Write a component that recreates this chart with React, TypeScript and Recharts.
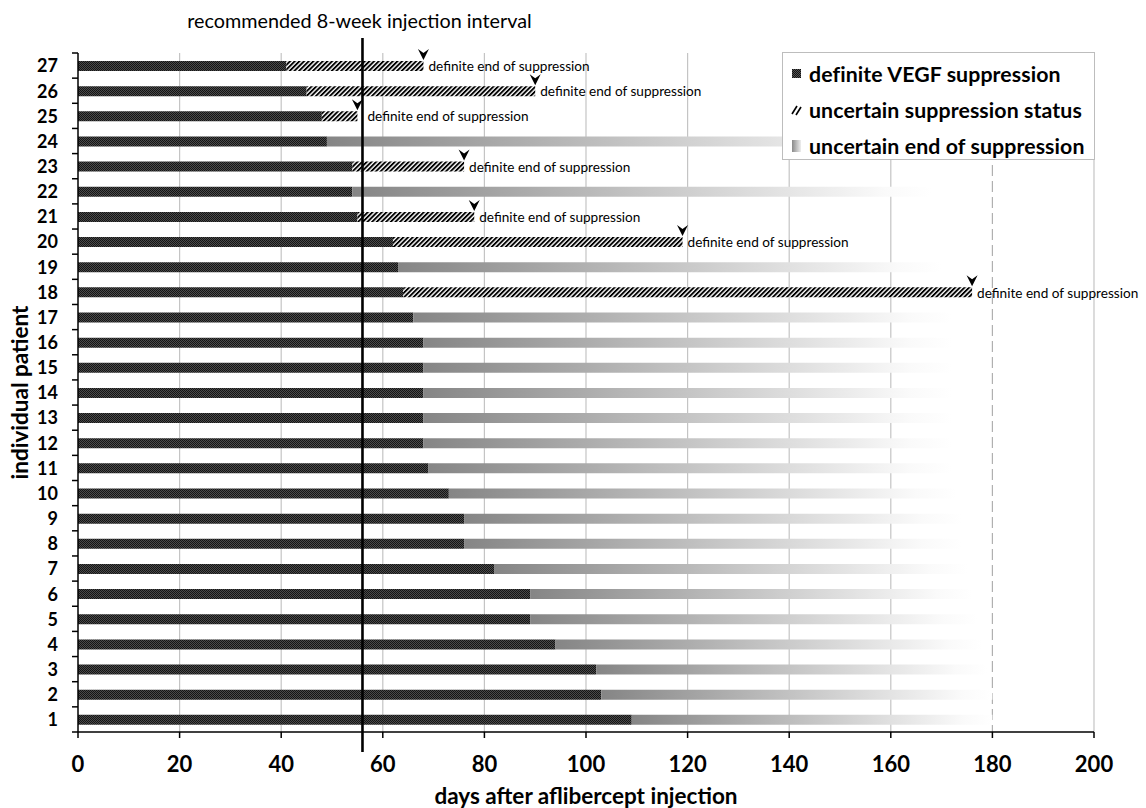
import React from 'react';
import { BarChart, Bar, XAxis, YAxis, ReferenceLine, Legend, LabelList, CartesianGrid } from 'recharts';

const patients = [27, 26, 25, 24, 23, 22, 21, 20, 19, 18, 17, 16, 15, 14, 13, 12, 11, 10, 9, 8, 7, 6, 5, 4, 3, 2, 1];
const definiteDays = [41, 45, 48, 49, 54, 54, 55, 62, 63, 64, 66, 68, 68, 68, 68, 68, 69, 73, 76, 76, 82, 89, 89, 94, 102, 103, 109];
const uncertainStatusEnd: (number | null)[] = [68, 90, 55, null, 76, null, 78, 119, null, 176, null, null, null, null, null, null, null, null, null, null, null, null, null, null, null, null, null];
const uncertainEndFade: (number | null)[] = [null, null, null, 168, null, 168, null, null, 170, null, 172, 172, 172, 172, 172, 172, 172, 173, 174, 174, 175, 176, 177, 178, 179, 180, 180];
const xTicks = [0, 20, 40, 60, 80, 100, 120, 140, 160, 180, 200];
const solidGridDays = [20, 40, 60, 80, 100, 120, 140, 160, 200];
const dashedGridDays = [180];
const RECOMMENDED_DAY = 56;

const data = patients.map((p, i) => ({
  patient: String(p),
  definite: definiteDays[i],
  hatch: uncertainStatusEnd[i] != null ? (uncertainStatusEnd[i] as number) - definiteDays[i] : null,
  fade: uncertainEndFade[i] != null ? (uncertainEndFade[i] as number) - definiteDays[i] : null,
}));

const FONT = 'Lato, "Open Sans", sans-serif';
const W = 1146;
const H = 808;
const M_TOP = 53;
const X_AXIS_H = 76;
const STEP = (H - M_TOP - X_AXIS_H) / patients.length;

const PatientTick = (props: any) => {
  const { x, y, payload, index } = props;
  return (
    <g>
      <text x={x} y={y} dy="0.38em" textAnchor="end" fontFamily={FONT} fontWeight={700} fontSize={18} fill="#000">
        {payload.value}
      </text>
      <line x1={x + 14} x2={x + 20} y1={y - STEP / 2} y2={y - STEP / 2} stroke="#000" strokeWidth={1.5} />
      {index === patients.length - 1 ? (
        <line x1={x + 14} x2={x + 20} y1={y + STEP / 2} y2={y + STEP / 2} stroke="#000" strokeWidth={1.5} />
      ) : null}
    </g>
  );
};

const renderEndLabel = (props: any) => {
  const { x, y, width, height, value, index } = props;
  if (value == null || Number(value) <= 0) return null;
  const xs = Number(x);
  const ys = Number(y);
  const w = Number(width);
  const h = Number(height);
  const endX = xs + w;
  const perDay = w / Number(value);
  const lineX = xs + (RECOMMENDED_DAY - definiteDays[index]) * perDay;
  const textX = Math.max(endX + 5, lineX + 5);
  const tipY = ys - 1;
  return (
    <g key={`end-${index}`}>
      <path
        d={`M${endX - 5.5},${tipY - 11} L${endX},${tipY - 7} L${endX + 5.5},${tipY - 11} L${endX},${tipY} Z`}
        fill="#000"
      />
      <text x={textX} y={ys + h / 2} dy="0.38em" fontFamily={FONT} fontSize={13.6} fill="#000">
        definite end of suppression
      </text>
    </g>
  );
};

const RecommendedLine = (props: any) => {
  const { x1, y1, y2 } = props;
  const top = Math.min(Number(y1), Number(y2));
  const bottom = Math.max(Number(y1), Number(y2));
  return (
    <g>
      <line x1={x1} x2={x1} y1={top - 15} y2={bottom + 20} stroke="#000" strokeWidth={2.6} />
      <text x={x1 - 3} y={top - 25} textAnchor="middle" fontFamily={FONT} fontSize={19.8} fill="#000">
        recommended 8-week injection interval
      </text>
    </g>
  );
};

const legendItems = [
  { key: 'definite', label: 'definite VEGF suppression' },
  { key: 'hatch', label: 'uncertain suppression status' },
  { key: 'fade', label: 'uncertain end of suppression' },
];

const LegendIcon = ({ kind }: { kind: string }) => {
  if (kind === 'definite') {
    return (
      <svg width={12} height={12} style={{ display: 'block' }}>
        <defs>
          <pattern id="lgDots" width={2} height={2} patternUnits="userSpaceOnUse">
            <rect width={2} height={2} fill="#555" />
            <rect width={1} height={1} fill="#111" />
            <rect x={1} y={1} width={1} height={1} fill="#111" />
          </pattern>
        </defs>
        <rect x={1} y={1} width={9} height={9} fill="url(#lgDots)" />
      </svg>
    );
  }
  if (kind === 'hatch') {
    return (
      <svg width={12} height={12} style={{ display: 'block' }}>
        <line x1={1} y1={10} x2={6} y2={2} stroke="#000" strokeWidth={1.6} />
        <line x1={5} y1={11} x2={10} y2={3} stroke="#000" strokeWidth={1.6} />
      </svg>
    );
  }
  return (
    <svg width={12} height={14} style={{ display: 'block' }}>
      <defs>
        <linearGradient id="lgFade" x1="0" x2="1" y1="0" y2="0">
          <stop offset="0" stopColor="#8a8a8a" />
          <stop offset="1" stopColor="#eeeeee" />
        </linearGradient>
      </defs>
      <rect x={1} y={1} width={9} height={12} fill="url(#lgFade)" />
    </svg>
  );
};

const LegendBox = () => (
  <div
    style={{
      width: 313,
      height: 108,
      boxSizing: 'border-box',
      border: '1px solid #bdbdbd',
      background: '#fff',
      fontFamily: FONT,
      fontWeight: 700,
      fontSize: 21.3,
      color: '#000',
      paddingTop: 3,
    }}
  >
    {legendItems.map((it) => (
      <div key={it.key} style={{ display: 'flex', alignItems: 'center', height: 36, paddingLeft: 8 }}>
        <LegendIcon kind={it.key} />
        <span style={{ marginLeft: 6, whiteSpace: 'nowrap', letterSpacing: 0.1 }}>{it.label}</span>
      </div>
    ))}
  </div>
);

export default function App() {
  return (
    <div style={{ position: 'absolute', left: 0, top: 0, width: W, height: H, background: '#fff' }}>
      <BarChart
        width={W}
        height={H}
        data={data}
        layout="vertical"
        margin={{ top: M_TOP, right: 52, bottom: 0, left: 0 }}
        style={{ fontFamily: FONT }}
      >
        <defs>
          <pattern id="dots" width={2} height={2} patternUnits="userSpaceOnUse">
            <rect width={2} height={2} fill="#4a4a4a" />
            <rect width={1} height={1} fill="#151515" />
            <rect x={1} y={1} width={1} height={1} fill="#151515" />
          </pattern>
          <pattern id="hatch" width={3.3} height={3.3} patternUnits="userSpaceOnUse" patternTransform="rotate(45)">
            <rect width={3.3} height={3.3} fill="#fff" />
            <rect x={0} y={0} width={1.9} height={3.3} fill="#000" />
          </pattern>
          <linearGradient id="fade" x1="0" x2="1" y1="0" y2="0">
            <stop offset="0" stopColor="#858585" />
            <stop offset="0.92" stopColor="#fafafa" />
            <stop offset="1" stopColor="#ffffff" />
          </linearGradient>
        </defs>
        <CartesianGrid horizontal={false} verticalValues={solidGridDays} stroke="#c4c4c4" strokeWidth={1.2} />
        <CartesianGrid horizontal={false} verticalValues={dashedGridDays} stroke="#b0b0b0" strokeWidth={1.2} strokeDasharray="11 5" />
        <XAxis
          type="number"
          domain={[0, 200]}
          ticks={xTicks}
          interval={0}
          height={X_AXIS_H}
          tickSize={6}
          tickMargin={18}
          axisLine={{ stroke: '#000', strokeWidth: 1.5 }}
          tickLine={{ stroke: '#000', strokeWidth: 1.5 }}
          tick={{ fontSize: 22, fontWeight: 700, fill: '#000', fontFamily: FONT }}
          label={{
            value: 'days after aflibercept injection',
            position: 'insideBottom',
            offset: 4,
            style: { fontSize: 22.5, fontWeight: 700, fill: '#000', fontFamily: FONT },
          }}
        />
        <YAxis
          type="category"
          dataKey="patient"
          width={78}
          interval={0}
          tickSize={6}
          tickMargin={14}
          tickLine={false}
          axisLine={{ stroke: '#000', strokeWidth: 1.5 }}
          tick={<PatientTick />}
          label={{
            value: 'individual patient',
            angle: -90,
            position: 'insideLeft',
            offset: 20,
            style: { textAnchor: 'middle', fontSize: 22.5, fontWeight: 700, fill: '#000', fontFamily: FONT },
          }}
        />
        <Bar dataKey="definite" stackId="s" barSize={10} fill="url(#dots)" isAnimationActive={false} />
        <Bar dataKey="hatch" stackId="s" barSize={10} fill="url(#hatch)" isAnimationActive={false}>
          <LabelList dataKey="hatch" content={renderEndLabel} />
        </Bar>
        <Bar dataKey="fade" stackId="s" barSize={10} fill="url(#fade)" isAnimationActive={false} />
        <ReferenceLine x={RECOMMENDED_DAY} stroke="#000" shape={<RecommendedLine />} />
        <Legend
          layout="horizontal"
          verticalAlign="middle"
          align="center"
          content={() => <LegendBox />}
          wrapperStyle={{ left: 782, top: 52, width: 313, height: 108 }}
        />
      </BarChart>
    </div>
  );
}
